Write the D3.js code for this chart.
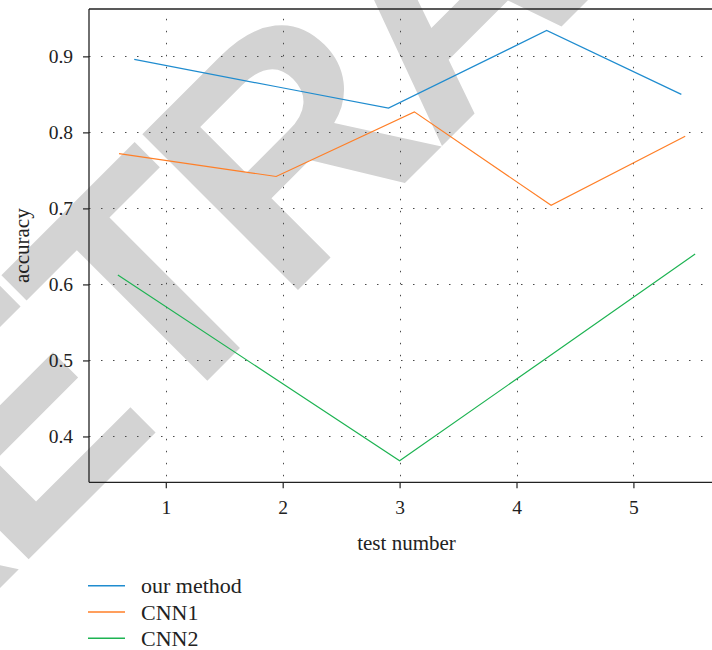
<!DOCTYPE html>
<html>
<head>
<meta charset="utf-8">
<script src="https://cdn.jsdelivr.net/npm/d3@7"></script>
<style>
  html, body { margin: 0; padding: 0; background: #fff; }
  svg { display: block; overflow: hidden; }
  text { font-family: "Liberation Serif", "Times New Roman", serif; fill: #222; }
</style>
</head>
<body>
<svg id="chart" width="712" height="650"></svg>
<script>
// Accuracy per test run for each model; x positions are the plotted test coordinates.
const seriesNames = ["our method", "CNN1", "CNN2"];
const seriesColors = ["#1f8ccf", "#ff7f27", "#1db352"];

const ourMethodX = [0.73, 1.95, 2.905, 4.258, 5.41];
const ourMethodY = [0.896, 0.860, 0.832, 0.934, 0.850];

const cnn1X = [0.60, 1.944, 3.126, 4.296, 5.443];
const cnn1Y = [0.772, 0.742, 0.827, 0.704, 0.795];

const cnn2X = [0.59, 1.90, 3.0, 4.20, 5.528];
const cnn2Y = [0.6125, 0.4795, 0.368, 0.497, 0.640];

const xTicks = [1, 2, 3, 4, 5];
const yTicks = [0.4, 0.5, 0.6, 0.7, 0.8, 0.9];

const xTitle = "test number";
const yTitle = "accuracy";
const stampText = "RETRACTED";

const svg = d3.select("#chart");

// Plot frame
const plotLeft = 89, plotRight = 724, plotTop = 9, plotBottom = 482.3;

// Axis ranges padded by 5% of the data span on each side
const allX = [...ourMethodX, ...cnn1X, ...cnn2X];
const allY = [...ourMethodY, ...cnn1Y, ...cnn2Y];
const [x0, x1] = d3.extent(allX);
const [y0, y1] = d3.extent(allY);
const padX = (x1 - x0) * 0.05, padY = (y1 - y0) * 0.05;

const x = d3.scaleLinear().domain([x0 - padX, x1 + padX]).range([plotLeft, plotRight]);
const y = d3.scaleLinear().domain([y0 - padY, y1 + padY]).range([plotBottom, plotTop]);

// Diagonal stamp underneath everything
svg.append("text")
  .attr("transform", "translate(-140,728) rotate(-45)")
  .attr("text-anchor", "start")
  .style("font-family", "'Liberation Sans', Arial, sans-serif")
  .style("font-weight", "bold")
  .style("font-size", "320px")
  .style("letter-spacing", "-14px")
  .style("fill", "#d3d3d3")
  .text(stampText);

// Dotted grid
const grid = svg.append("g")
  .attr("stroke", "#4a4a4a")
  .attr("stroke-width", 1)
  .attr("stroke-dasharray", "1.5 10.5");

grid.selectAll("line.gx").data(xTicks).join("line")
  .attr("class", "gx")
  .attr("x1", d => Math.round(x(d)) + 0.5).attr("x2", d => Math.round(x(d)) + 0.5)
  .attr("y1", plotBottom).attr("y2", plotTop)
  .attr("stroke-dashoffset", 6);

grid.selectAll("line.gy").data(yTicks).join("line")
  .attr("class", "gy")
  .attr("y1", d => Math.round(y(d)) + 0.5).attr("y2", d => Math.round(y(d)) + 0.5)
  .attr("x1", plotLeft).attr("x2", plotRight)
  .attr("stroke-dashoffset", 0);

// Series lines
const line = d3.line().x(d => x(d[0])).y(d => y(d[1]));
const seriesData = [
  d3.zip(ourMethodX, ourMethodY),
  d3.zip(cnn1X, cnn1Y),
  d3.zip(cnn2X, cnn2Y)
];

svg.append("g").selectAll("path").data(seriesData).join("path")
  .attr("d", line)
  .attr("fill", "none")
  .attr("stroke", (d, i) => seriesColors[i])
  .attr("stroke-width", 1.2)
  .attr("stroke-linejoin", "miter");

// Axes
const xAxis = d3.axisBottom(x).tickValues(xTicks).tickFormat(d3.format("d"))
  .tickSize(6).tickPadding(12);
const yAxis = d3.axisLeft(y).tickValues(yTicks).tickFormat(d3.format(".1f"))
  .tickSize(6).tickPadding(10);

const gx = svg.append("g").attr("transform", `translate(0,${plotBottom})`).call(xAxis);
const gy = svg.append("g").attr("transform", `translate(${plotLeft},0)`).call(yAxis);

[gx, gy].forEach(g => {
  g.select(".domain").remove();
  g.selectAll(".tick line").attr("stroke", "#222").attr("stroke-width", 1.2);
  g.selectAll(".tick text")
    .attr("fill", "#222")
    .style("font-family", "'Liberation Serif', 'Times New Roman', serif")
    .style("font-size", "19.5px");
});
gx.selectAll(".tick text").attr("dy", "0.71em");

// Spines: top, left, bottom
const spines = svg.append("g").attr("stroke", "#222").attr("stroke-width", 1.3).attr("fill", "none");
spines.append("line").attr("x1", plotLeft).attr("x2", plotRight).attr("y1", plotTop).attr("y2", plotTop);
spines.append("line").attr("x1", plotLeft).attr("x2", plotLeft).attr("y1", plotTop).attr("y2", plotBottom);
spines.append("line").attr("x1", plotLeft).attr("x2", plotRight).attr("y1", plotBottom).attr("y2", plotBottom);

// Axis titles
svg.append("text")
  .attr("x", (plotLeft + plotRight) / 2).attr("y", 550)
  .attr("text-anchor", "middle")
  .style("font-size", "21px")
  .text(xTitle);

svg.append("text")
  .attr("transform", `translate(29,${(plotTop + plotBottom) / 2}) rotate(-90)`)
  .attr("text-anchor", "middle")
  .style("font-size", "21px")
  .text(yTitle);

// Legend
const legend = svg.append("g");
const legendY = d3.scaleLinear().domain([0, 2]).range([585.7, 638.3]);
const rows = legend.selectAll("g").data(seriesNames).join("g")
  .attr("transform", (d, i) => `translate(0,${legendY(i)})`);
rows.append("line")
  .attr("x1", 88).attr("x2", 125)
  .attr("stroke", (d, i) => seriesColors[i])
  .attr("stroke-width", 1.5);
rows.append("text")
  .attr("x", 141).attr("y", 7.5)
  .style("font-size", "22px")
  .text(d => d);
</script>
</body>
</html>
